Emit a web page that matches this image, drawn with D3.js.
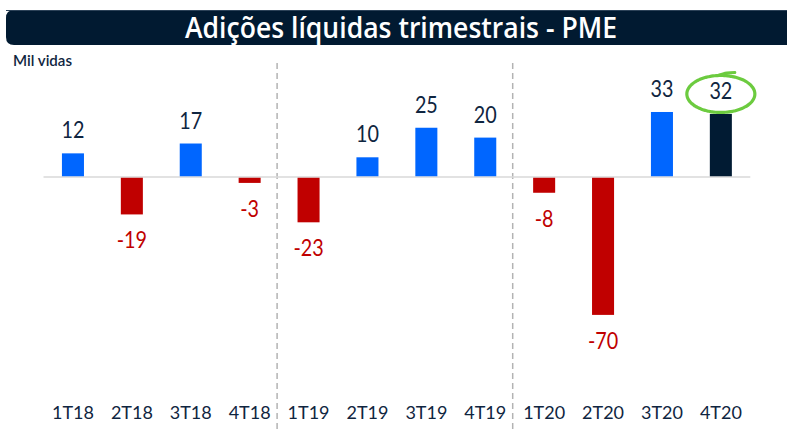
<!DOCTYPE html>
<html><head><meta charset="utf-8">
<script src="https://cdn.jsdelivr.net/npm/d3@7"></script>
<style>html,body{margin:0;padding:0;background:#fff;}svg{display:block;}</style>
</head><body>
<svg id="chart" width="787" height="432"></svg>
<script>
const categories = ["1T18","2T18","3T18","4T18","1T19","2T19","3T19","4T19","1T20","2T20","3T20","4T20"];
const values = [12,-19,17,-3,-23,10,25,20,-8,-70,33,32];
const highlight = "4T20";
const separators = ["1T19","1T20"];
const title = "Adições líquidas trimestrais - PME";
const unitLabel = "Mil vidas";

const svg = d3.select("#chart");
const W = 787, H = 432;
const navy = "#0f2540", blue = "#0066ff", red = "#c00000", dark = "#011b33";
const font = "Lato, 'Open Sans', sans-serif";

// title bar
svg.append("path")
  .attr("d", "M14,10 H787 V45 H14 Q6,45 6,37 V18 Q6,10 14,10 Z")
  .attr("fill", "#011a31");
svg.append("line").attr("x1",6).attr("x2",787).attr("y1",10.5).attr("y2",10.5).attr("stroke","#2c4258").attr("stroke-width",1);
svg.append("text").attr("x", 401).attr("y", 37.5)
  .attr("text-anchor","middle").attr("fill","#fff")
  .attr("font-family", "'Open Sans', Lato, sans-serif").attr("font-size", 28).attr("font-weight", 600)
  .attr("textLength", 432).attr("lengthAdjust","spacingAndGlyphs")
  .text(title);

svg.append("text").attr("x", 13).attr("y", 65.5)
  .attr("fill", navy).attr("font-family", font).attr("font-size", 14.5).attr("font-weight", 600)
  .attr("textLength", 59).attr("lengthAdjust","spacingAndGlyphs")
  .text(unitLabel);

const x = d3.scaleBand().domain(categories).range([43.5, 750.3]).paddingInner(0.626).paddingOuter(0.313);
const y = d3.scaleLinear().domain([-75, 40]).range([177 + 75*1.97, 177 - 40*1.97]);
const bw = x.bandwidth();
const step = x.step();

// separators
separators.forEach(c => {
  const sx = x(c) - (step - bw)/2 - 2;
  svg.append("line").attr("x1", sx).attr("x2", sx).attr("y1", 63).attr("y2", H)
    .attr("stroke", "#b3b3b3").attr("stroke-width", 1.5).attr("stroke-dasharray", "6,4");
});

// zero line
svg.append("line").attr("x1", x.range()[0]).attr("x2", x.range()[1])
  .attr("y1", y(0)).attr("y2", y(0)).attr("stroke", "#d9d9d9").attr("stroke-width", 1.5);

const data = categories.map((c,i)=>({c, v: values[i]}));

svg.selectAll("rect.bar").data(data).enter().append("rect")
  .attr("class","bar")
  .attr("x", d => x(d.c))
  .attr("width", bw)
  .attr("y", d => d.v >= 0 ? y(d.v) : y(0) + 0.75)
  .attr("height", d => Math.abs(y(d.v) - y(0)) - 0.75)
  .attr("fill", d => d.c === highlight ? dark : (d.v >= 0 ? blue : red));

svg.selectAll("text.val").data(data).enter().append("text")
  .attr("class","val")
  .attr("transform", d => `translate(${x(d.c) + bw/2},${d.v >= 0 ? y(d.v) - 15 : y(d.v) + 34}) scale(0.86,1)`)
  .attr("text-anchor","middle")
  .attr("font-family", font).attr("font-size", 23)
  .attr("fill", d => d.v >= 0 ? navy : red)
  .text(d => d.v);

// x axis labels
const xAxis = d3.axisBottom(x).tickSize(0).tickPadding(0);
const gx = svg.append("g").attr("transform", "translate(0,406.5)").call(xAxis);
gx.select(".domain").remove();
gx.selectAll("text").attr("font-family", font).attr("font-size", 18).attr("fill", navy);

// highlight ellipse
const hv = values[categories.indexOf(highlight)];
const cx = x(highlight) + bw/2, cy = y(hv) - 20;
const rx = 34, ry = 18.5;
const pt = a => [cx + rx*Math.cos(a), cy + ry*Math.sin(a)];
const a0 = -Math.PI/2 - 0.15, pts = d3.range(0, 2*Math.PI + 0.55, 0.05).map(t => pt(a0 + t));
const line = d3.line().curve(d3.curveCatmullRom);
svg.append("path").attr("d", line(pts)).attr("fill","none")
  .attr("stroke","#6ccb3f").attr("stroke-width",3.2).attr("stroke-linecap","round");
svg.append("path").attr("d", line([pt(-Math.PI/2 - 0.1), [cx + 6, cy - ry - 2.5], [cx + 14, cy - ry - 3]]))
  .attr("fill","none").attr("stroke","#6ccb3f").attr("stroke-width",3).attr("stroke-linecap","round");
</script>
</body></html>
